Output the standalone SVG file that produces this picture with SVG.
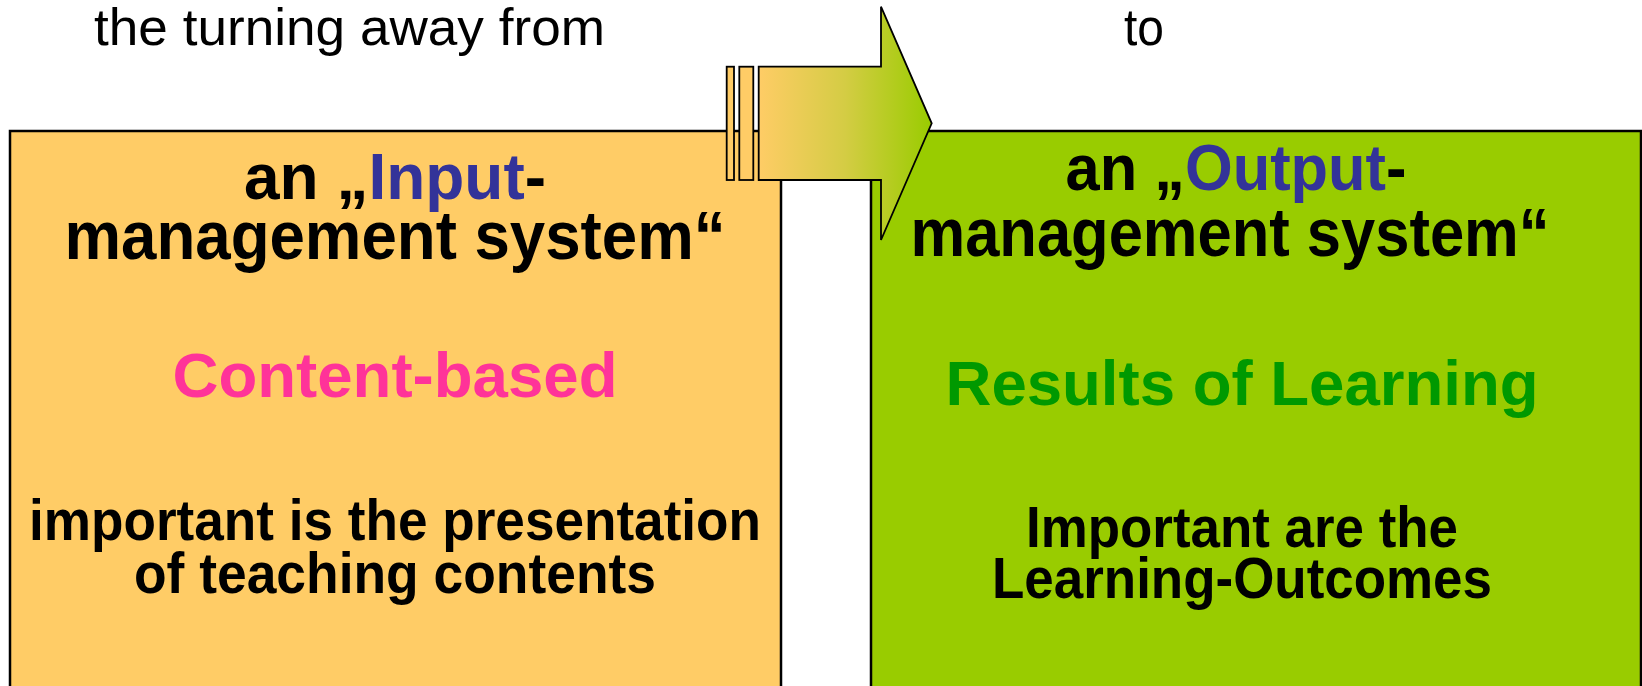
<svg xmlns="http://www.w3.org/2000/svg" width="1642" height="686" viewBox="0 0 1642 686">
  <defs>
    <linearGradient id="shift" x1="758" y1="0" x2="932" y2="0" gradientUnits="userSpaceOnUse">
      <stop offset="0" stop-color="#FFCC66"/>
      <stop offset="0.5" stop-color="#D4CC44"/>
      <stop offset="1" stop-color="#99CC00"/>
    </linearGradient>
  </defs>
  <style>
    .cap { font-family: "Liberation Sans", Arial, sans-serif; font-size: 52px; fill: #000; }
    .b { font-family: "Liberation Sans", Arial, sans-serif; font-weight: bold; text-anchor: middle; }
    .h1 { font-size: 64px; fill: #000; }
    .h2 { font-size: 68px; fill: #000; }
    .k { fill: #333399; }
    .m { font-size: 63px; }
    .s { font-size: 57px; fill: #000; }
    .box { stroke: #000; stroke-width: 2.5; }
  </style>
  <rect width="1642" height="686" fill="#fff"/>

  <text class="cap" x="94" y="45" textLength="511" lengthAdjust="spacingAndGlyphs">the turning away from</text>
  <text class="cap" x="1124" y="45" textLength="40" lengthAdjust="spacingAndGlyphs">to</text>

  <g id="input-system">
    <rect class="box" x="10" y="131" width="771" height="570" fill="#FFCC66"/>
    <text class="b h1" x="395" y="199" textLength="302" lengthAdjust="spacingAndGlyphs">an „<tspan class="k">Input</tspan>-</text>
    <text class="b h2" x="395" y="259" textLength="661" lengthAdjust="spacingAndGlyphs">management system“</text>
    <text class="b m" x="395" y="397" fill="#FF3399" textLength="445" lengthAdjust="spacingAndGlyphs">Content-based</text>
    <text class="b s" x="395" y="540" textLength="732" lengthAdjust="spacingAndGlyphs">important is the presentation</text>
    <text class="b s" x="395" y="593" textLength="522" lengthAdjust="spacingAndGlyphs">of teaching contents</text>
  </g>

  <g id="output-system">
    <rect class="box" x="871" y="131" width="770" height="570" fill="#99CC00"/>
    <text class="b h1" x="1236" y="190" textLength="341" lengthAdjust="spacingAndGlyphs">an „<tspan class="k">Output</tspan>-</text>
    <text class="b h2" x="1230" y="256" textLength="639" lengthAdjust="spacingAndGlyphs">management system“</text>
    <text class="b m" x="1242" y="405" fill="#009900" textLength="593" lengthAdjust="spacingAndGlyphs">Results of Learning</text>
    <text class="b s" x="1242" y="547" textLength="432" lengthAdjust="spacingAndGlyphs">Important are the</text>
    <text class="b s" x="1242" y="598" textLength="500" lengthAdjust="spacingAndGlyphs">Learning-Outcomes</text>
  </g>

  <g id="connectors">
    <g id="shift-arrow" stroke="#000" stroke-width="1.8" stroke-linejoin="miter">
      <rect x="726.7" y="66.7" width="7.3" height="113.3" fill="#FFCC66"/>
      <rect x="739.3" y="66.7" width="14" height="113.3" fill="#FFCC66"/>
      <polygon points="758.7,66.7 881,66.7 881,6.7 931.7,123.3 881,240 881,180 758.7,180" fill="url(#shift)"/>
    </g>
  </g>
</svg>
